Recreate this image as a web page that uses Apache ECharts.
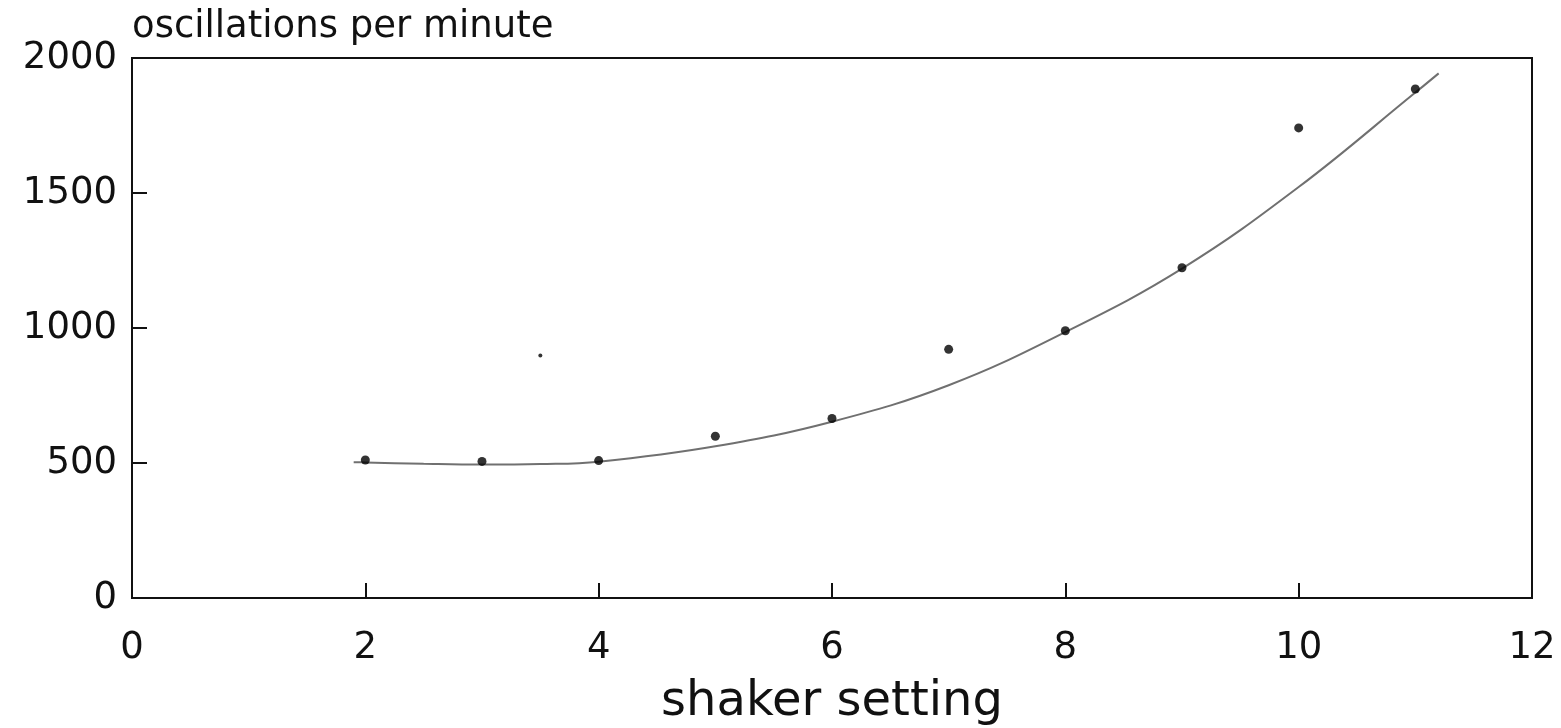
<!DOCTYPE html>
<html>
<head>
<meta charset="utf-8">
<title>oscillations per minute vs shaker setting</title>
<script src="https://cdn.jsdelivr.net/npm/echarts@6/dist/echarts.min.js"></script>
<style>
  html, body { margin: 0; padding: 0; background: #ffffff; }
  #chart { width: 1561px; height: 728px; }
</style>
</head>
<body>
<div id="chart"></div>
<script>
// measured points (shaker setting, oscillations per minute)
const settings = [2, 3, 4, 5, 6, 7, 8, 9, 10, 11]
const oscillations = [511, 506, 509, 599, 665, 921, 990, 1223, 1741, 1885]

// lone small dot near setting 3.5
const strayPoint = [[3.5, 898]]

// fitted curve
const curveX = [1.9, 2, 2.5, 3, 3.5, 4, 5, 6, 7, 8, 9, 10, 11, 11.2]
const curveY = [503, 502, 497, 494, 496, 505, 562, 653, 788, 985, 1220, 1522, 1872, 1943]

const FONT = '"DejaVu Sans", "Liberation Sans", sans-serif'
const INK = '#111111'

const chart = echarts.init(document.getElementById('chart'))

const option = {
  backgroundColor: '#ffffff',
  animation: false,
  grid: {
    left: 132,
    right: 29,
    top: 58,
    bottom: 130,
    containLabel: false,
    outerBoundsMode: 'none',
    show: true,
    borderColor: INK,
    borderWidth: 2
  },
  xAxis: {
    type: 'value',
    min: 0,
    max: 12,
    interval: 2,
    name: 'shaker setting',
    nameLocation: 'middle',
    nameGap: 81,
    nameTextStyle: { color: INK, fontFamily: FONT, fontSize: 48 },
    axisLine: { show: true, lineStyle: { color: INK, width: 2 } },
    axisTick: { show: true, inside: true, length: 15, lineStyle: { color: INK, width: 2 } },
    axisLabel: { color: INK, fontFamily: FONT, fontSize: 37, margin: 32 },
    splitLine: { show: false }
  },
  yAxis: {
    type: 'value',
    min: 0,
    max: 2000,
    interval: 500,
    name: 'oscillations per minute',
    nameLocation: 'end',
    nameGap: 12,
    nameTextStyle: { color: INK, fontFamily: FONT, fontSize: 37, align: 'left', verticalAlign: 'bottom' },
    axisLine: { show: true, lineStyle: { color: INK, width: 2 } },
    axisTick: { show: true, inside: true, length: 15, lineStyle: { color: INK, width: 2 } },
    axisLabel: {
      color: INK,
      fontFamily: FONT,
      fontSize: 37,
      margin: 15,
      formatter: (value) => String(value)
    },
    splitLine: { show: false }
  },
  series: [
    {
      name: 'fit',
      type: 'line',
      data: curveX.map((x, i) => [x, curveY[i]]),
      smooth: 0.4,
      showSymbol: false,
      lineStyle: { color: '#707070', width: 2 },
      z: 1
    },
    {
      name: 'measured',
      type: 'scatter',
      data: settings.map((x, i) => [x, oscillations[i]]),
      symbol: 'circle',
      symbolSize: 9,
      itemStyle: { color: '#000000' },
      z: 2
    },
    {
      name: 'stray',
      type: 'scatter',
      data: strayPoint,
      symbol: 'circle',
      symbolSize: 4,
      itemStyle: { color: '#000000' },
      z: 2
    }
  ]
}

chart.setOption(option)
</script>
</body>
</html>
